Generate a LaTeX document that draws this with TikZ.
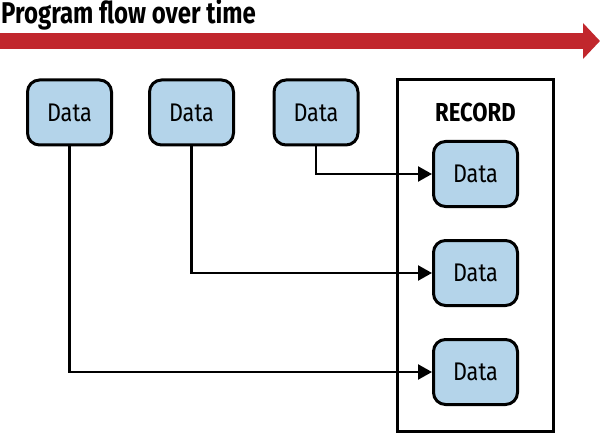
\documentclass[tikz,border=0pt]{standalone}
\usepackage{fontspec}
\setmainfont{Fira Sans}[FakeStretch=0.85]
\newfontfamily\titlefont{Fira Sans}[FakeStretch=0.80]
\usepackage{xcolor}
\usetikzlibrary{arrows.meta,positioning}

\definecolor{flowred}{RGB}{193,39,45}
\definecolor{datablue}{RGB}{180,212,234}

\begin{document}
\begin{tikzpicture}[
    x=1pt, y=-1pt,
    every node/.style={font=\fontsize{25.5}{28}\selectfont},
    data/.style={
        draw, rectangle, rounded corners=12pt,
        line width=3pt,
        fill=datablue,
        minimum width=84pt,
        minimum height=65pt,
        inner sep=2pt
    },
    record/.style={
        draw, rectangle,
        line width=2.4pt,
        minimum width=156pt,
        minimum height=352pt
    },
    conn/.style={-{Triangle[length=14pt,width=15pt]}, line width=2.3pt},
    flow/.style={-{Triangle[length=17pt,width=35pt]}, line width=16pt, flowred}
]
\useasboundingbox (0,0) rectangle (600,433);

%% ── Timeline arrow ────────────────────────────────────
\node[anchor=base west, inner sep=0pt,
      font=\fontsize{30}{32}\titlefont\bfseries] (title) at (1,24)
    {Program flow over time};
\coordinate (tstart) at (0,41);
\coordinate (tend) at (600,41);
\draw[flow] (tstart) -- (tend);

%% ── Data over time ────────────────────────────────────
\node[data] (d1) at (69.5,112.5) {Data};
\node[data] (d2) at (191.5,112.5) {Data};
\node[data] (d3) at (316,112.5) {Data};

%% ── Record ────────────────────────────────────────────
\node[record] (rec) at (475.5,255.5) {};
\node[font=\fontsize{26}{28}\selectfont\bfseries] (rec_label) at (475.5,112) {RECORD};
\node[data] (r1) at (475.5,174) {Data};
\node[data, below=31pt of r1] (r2) {Data};
\node[data, below=31pt of r2] (r3) {Data};

%% ── Connectors ────────────────────────────────────────
\draw[conn] (d3.south) |- (r1.west);
\draw[conn] (d2.south) |- (r2.west);
\draw[conn] (d1.south) |- (r3.west);

\end{tikzpicture}
\end{document}
